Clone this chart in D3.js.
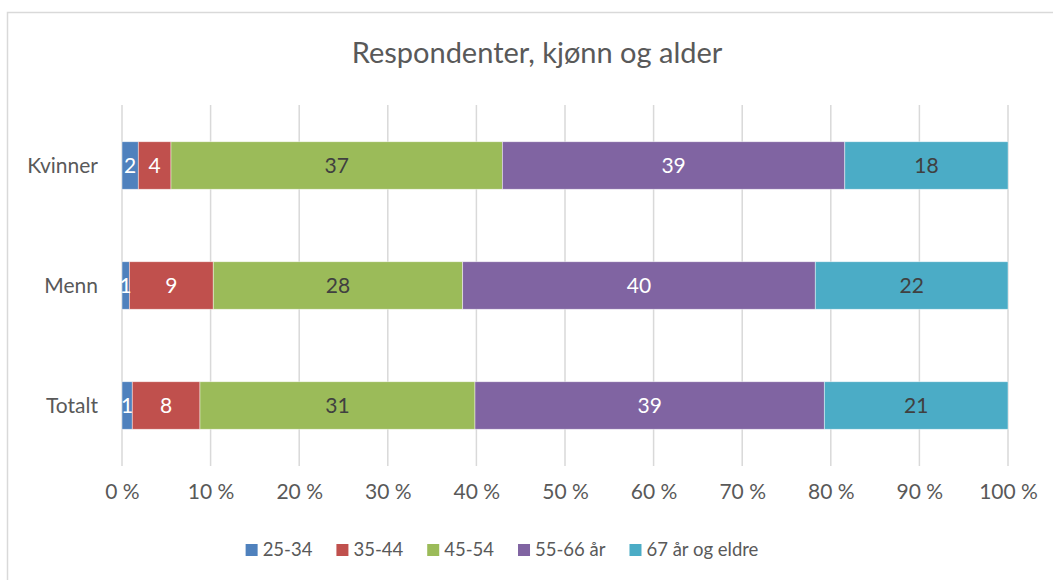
<!DOCTYPE html>
<html><head><meta charset="utf-8">
<script src="https://cdn.jsdelivr.net/npm/d3@7"></script>
<style>body{margin:0;background:#fff}svg{display:block}</style>
</head><body>
<script>
const categories = ["Kvinner", "Menn", "Totalt"];
const seriesNames = ["25-34", "35-44", "45-54", "55-66 år", "67 år og eldre"];
const s2534 = [1.84, 0.83, 1.16];
const s3544 = [3.69, 9.47, 7.64];
const s4554 = [37.40, 28.15, 31.04];
const s5566 = [38.65, 39.80, 39.43];
const s67 = [18.43, 21.75, 20.73];
const tickValues = [0, 10, 20, 30, 40, 50, 60, 70, 80, 90, 100];
const title = "Respondenter, kjønn og alder";

const colors = ["#4F81BD", "#C0504D", "#9BBB59", "#8064A2", "#4BACC6"];
const labelColors = ["#ffffff", "#ffffff", "#404040", "#ffffff", "#404040"];
const seriesVals = [s2534, s3544, s4554, s5566, s67];

const W = 1053, H = 580;
const svg = d3.select("body").append("svg").attr("width", W).attr("height", H);
const font = "Lato, 'Open Sans', sans-serif";

svg.append("rect").attr("x", 7.5).attr("y", 12.5).attr("width", 1100).attr("height", 700)
  .attr("fill", "#fff").attr("stroke", "#d9d9d9").attr("stroke-width", 1.5);

svg.append("text").attr("x", 537).attr("y", 63).attr("text-anchor", "middle")
  .attr("font-family", font).attr("font-size", 29).attr("fill", "#595959").text(title);

const x = d3.scaleLinear().domain([0, 100]).range([122, 1008]);
const y = d3.scaleBand().domain(categories).range([105.5, 465.5]).paddingInner(0.604).paddingOuter(0.302);

// gridlines
svg.append("g").selectAll("line").data(tickValues).join("line")
  .attr("x1", d => x(d)).attr("x2", d => x(d)).attr("y1", 105).attr("y2", 466)
  .attr("stroke", "#d9d9d9").attr("stroke-width", 1.5);

// x tick labels
const xAxis = d3.axisBottom(x).tickValues(tickValues).tickFormat(d => d + " %").tickSize(0).tickPadding(0);
const gx = svg.append("g").attr("transform", "translate(0,484)").call(xAxis);
gx.select(".domain").remove();
gx.selectAll("text").attr("font-family", font).attr("font-size", 21).attr("fill", "#595959").attr("dy", "0.71em");

// y labels
const yAxis = d3.axisLeft(y).tickSize(0).tickPadding(0);
const gy = svg.append("g").attr("transform", "translate(98,0)").call(yAxis);
gy.select(".domain").remove();
gy.selectAll("text").attr("font-family", font).attr("font-size", 21).attr("fill", "#595959").attr("dy", "0.35em");

// stacked data
const rows = categories.map((c, i) => {
  const r = { cat: c };
  seriesNames.forEach((s, j) => r[s] = seriesVals[j][i]);
  return r;
});
const stack = d3.stack().keys(seriesNames)(rows);

stack.forEach((layer, j) => {
  const g = svg.append("g");
  g.selectAll("rect").data(layer).join("rect")
    .attr("x", d => x(d[0])).attr("width", d => x(d[1]) - x(d[0]))
    .attr("y", d => y(d.data.cat)).attr("height", y.bandwidth())
    .attr("fill", colors[j]).attr("stroke", "#ffffff").attr("stroke-width", 0.75).attr("stroke-opacity", 0.6);
});
stack.forEach((layer, j) => {
  svg.append("g").selectAll("text").data(layer).join("text")
    .attr("x", d => (x(d[0]) + x(d[1])) / 2)
    .attr("y", d => y(d.data.cat) + y.bandwidth() / 2)
    .attr("dy", "0.35em").attr("text-anchor", "middle")
    .attr("font-family", font).attr("font-size", 21).attr("fill", labelColors[j])
    .text(d => d3.format(".0f")(d[1] - d[0]));
});

// legend
const leg = svg.append("g");
let cx = 0;
seriesNames.forEach((s, j) => {
  const g = leg.append("g");
  g.append("rect").attr("x", 0).attr("y", -6).attr("width", 12).attr("height", 12).attr("fill", colors[j]);
  const t = g.append("text").attr("x", 17).attr("y", 0).attr("dy", "0.35em")
    .attr("font-family", font).attr("font-size", 18.5).attr("fill", "#595959").text(s);
  const w = 17 + t.node().getComputedTextLength();
  g.attr("transform", `translate(${cx},0)`);
  cx += w + 24;
});
const total = cx - 24;
leg.attr("transform", `translate(${502 - total / 2},550)`);
</script>
</body></html>
